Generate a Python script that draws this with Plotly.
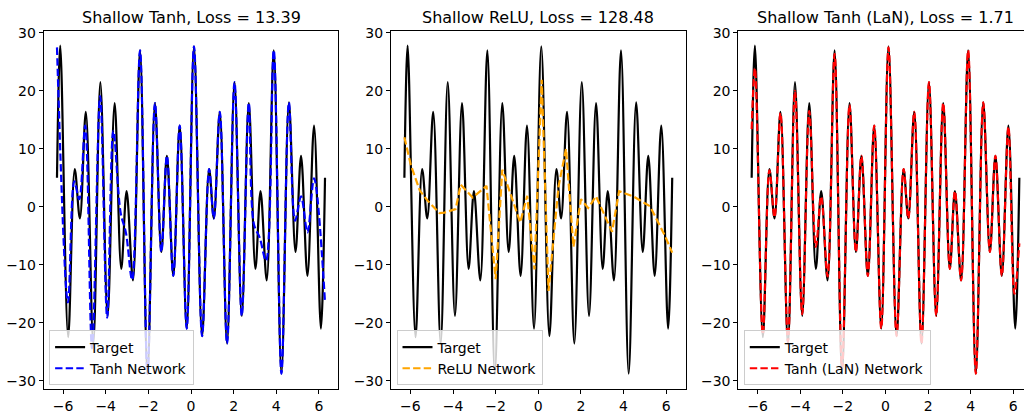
import plotly.graph_objects as go

# Target signal: turning points, plus the two end points
target_x = [-6.283, -6.13, -5.76, -5.45, -5.21, -4.93, -4.58, -4.25, -3.91, -3.58,
            -3.27, -3.02, -2.72, -2.39, -2.04, -1.69, -1.39, -1.13, -0.83, -0.53,
            -0.20, 0.14, 0.52, 0.85, 1.07, 1.35, 1.69, 2.04, 2.38, 2.71,
            3.02, 3.26, 3.55, 3.88, 4.24, 4.59, 4.90, 5.16, 5.46, 5.77,
            6.09, 6.283]
target_y = [5.0, 27.8, -22.5, 6.5, -2.0, 16.4, -23.6, 21.5, -18.8, 17.9,
            -10.7, 2.7, -12.7, 27.0, -28.8, 17.9, -7.8, 8.8, -11.9, 14.0,
            -21.0, 27.7, -22.3, 6.5, -2.0, 16.4, -23.6, 21.5, -18.8, 17.9,
            -10.7, 2.7, -12.7, 27.0, -28.8, 18.0, -7.8, 8.8, -11.9, 14.0,
            -21.0, 5.0]

# Shallow tanh network prediction
tanh_x = [-6.283, -5.77, -5.47, -5.24, -4.96, -4.64, -4.26, -3.93, -3.64, -3.30,
          -3.05, -2.76, -2.39, -2.04, -1.69, -1.39, -1.13, -0.83, -0.53, -0.20,
          0.14, 0.52, 0.85, 1.07, 1.35, 1.69, 2.04, 2.38, 2.71, 2.95,
          3.22, 3.52, 3.88, 4.24, 4.59, 4.88, 5.16, 5.46, 5.77, 6.283]
tanh_y = [27.5, -16.5, 4.4, 1.3, 14.0, -24.4, 19.1, -19.1, 13.1, -1.0,
          -4.5, -12.6, 27.0, -28.8, 17.9, -7.8, 8.8, -11.9, 14.0, -21.0,
          27.7, -22.3, 6.5, -2.0, 16.4, -23.6, 21.5, -18.8, 17.9, -3.0,
          -5.3, -9.3, 27.0, -28.8, 18.0, -2.4, 1.8, -4.4, 4.9, -16.5]

# Shallow ReLU network prediction (piecewise linear)
relu_x = [-6.283, -5.98, -5.56, -5.18, -4.63, -4.40, -3.88, -3.64, -3.08, -2.43,
          -2.00, -1.69, -0.85, -0.52, -0.18, 0.16, 0.48, 0.95, 1.30, 1.65,
          2.00, 2.34, 2.71, 3.46, 3.79, 4.45, 5.24, 5.93, 6.283]
relu_y = [12.0, 7.2, 2.8, 1.0, -1.1, -1.0, -0.4, 3.8, 1.6, 3.6,
          -12.5, 6.4, -2.7, 1.9, -10.8, 21.9, -14.5, 3.5, 10.0, -6.9,
          1.3, -0.2, 1.8, -4.3, 2.7, 1.8, 0.1, -4.9, -7.9]

# Shallow tanh network with layer-wise adaptive nonlinearity
lan_x = [-6.283, -6.13, -5.76, -5.45, -5.21, -4.93, -4.58, -4.25, -3.91, -3.58,
         -3.27, -3.02, -2.72, -2.39, -2.04, -1.69, -1.39, -1.13, -0.83, -0.53,
         -0.20, 0.14, 0.52, 0.85, 1.07, 1.35, 1.69, 2.04, 2.38, 2.71,
         3.02, 3.26, 3.55, 3.88, 4.24, 4.59, 4.90, 5.16, 5.46, 5.77,
         6.05, 6.283]
lan_y = [13.4, 23.9, -22.0, 6.3, -1.8, 16.2, -23.3, 20.0, -18.5, 16.5,
         -6.9, 1.8, -12.0, 26.4, -27.8, 17.6, -7.8, 8.8, -11.9, 14.0,
         -21.0, 27.5, -22.3, 6.5, -2.0, 16.4, -23.6, 21.5, -18.8, 17.9,
         -10.7, 2.7, -12.7, 27.0, -28.8, 18.0, -7.8, 8.8, -11.9, 13.8,
         -15.0, -6.3]

titles = ["Shallow Tanh, Loss = 13.39",
          "Shallow ReLU, Loss = 128.48",
          "Shallow Tanh (LaN), Loss = 1.71"]
net_names = ["Tanh Network", "ReLU Network", "Tanh (LaN) Network"]
net_colors = ["#0000ff", "#ffa500", "#ff0000"]
net_shapes = ["spline", "linear", "spline"]
net_x = [tanh_x, relu_x, lan_x]
net_y = [tanh_y, relu_y, lan_y]

x_ticks = [-6, -4, -2, 0, 2, 4, 6]
y_ticks = [-30, -20, -10, 0, 10, 20, 30]

W, H = 1024, 414
FONT = "DejaVu Sans"
# panel extents in pixels (left, right); the last one runs off the canvas edge
panels_px = [(43.6, 338.4), (391.0, 685.6), (738.3, 1024.0)]
x_ranges = [[-6.911, 6.911], [-6.911, 6.911], [-6.911, 6.502]]
top_px, bottom_px = 25.0, 390.0
y_dom = [(H - bottom_px) / H, (H - top_px) / H]
y_range = [-31.5, 30.4]
DASH = "7.4px,3.2px"
LW = 2.2

fig = go.Figure()
layout = dict(
    width=W, height=H,
    margin=dict(l=0, r=0, t=0, b=0),
    paper_bgcolor="white", plot_bgcolor="white",
    font=dict(family=FONT, size=14, color="black"),
    annotations=[],
)

for i in range(3):
    sfx = "" if i == 0 else str(i + 1)
    xa, ya = "x" + sfx, "y" + sfx
    leg = "legend" + sfx
    fig.add_trace(go.Scatter(
        x=target_x, y=target_y, mode="lines", name="Target",
        line=dict(color="black", width=LW, shape="spline", smoothing=1.0),
        xaxis=xa, yaxis=ya, legend=leg,
    ))
    fig.add_trace(go.Scatter(
        x=net_x[i], y=net_y[i], mode="lines", name=net_names[i],
        line=dict(color=net_colors[i], width=LW, dash=DASH,
                  shape=net_shapes[i], smoothing=1.0),
        xaxis=xa, yaxis=ya, legend=leg,
    ))
    l_px, r_px = panels_px[i]
    axis_common = dict(
        showgrid=False, zeroline=False, showline=True, linecolor="black",
        linewidth=1, ticks="outside", ticklen=4, tickwidth=1, tickcolor="black",
        tickfont=dict(family=FONT, size=14, color="black"),
    )
    layout["xaxis" + sfx] = dict(
        domain=[l_px / W, r_px / W], range=x_ranges[i], anchor=ya,
        tickvals=x_ticks, mirror=True, **axis_common,
    )
    layout["yaxis" + sfx] = dict(
        domain=y_dom, range=y_range, anchor=xa,
        tickvals=y_ticks, mirror=(i < 2), **axis_common,
    )
    layout[leg] = dict(
        x=(l_px + 5.5) / W, y=(H - 386.0) / H, xanchor="left", yanchor="bottom",
        bgcolor="rgba(255,255,255,0.8)", bordercolor="#cccccc", borderwidth=1,
        font=dict(family=FONT, size=14, color="black"),
        tracegroupgap=0,
    )
    # centre the title over the full panel width (the third panel runs past the edge)
    centre_px = l_px + 147.4
    layout["annotations"].append(dict(
        text=titles[i], xref="paper", yref="paper",
        x=centre_px / W, y=y_dom[1], xanchor="center", yanchor="bottom",
        yshift=2, showarrow=False,
        font=dict(family=FONT, size=16, color="black"),
    ))

fig.update_layout(**layout)
fig.write_html("out.html")
